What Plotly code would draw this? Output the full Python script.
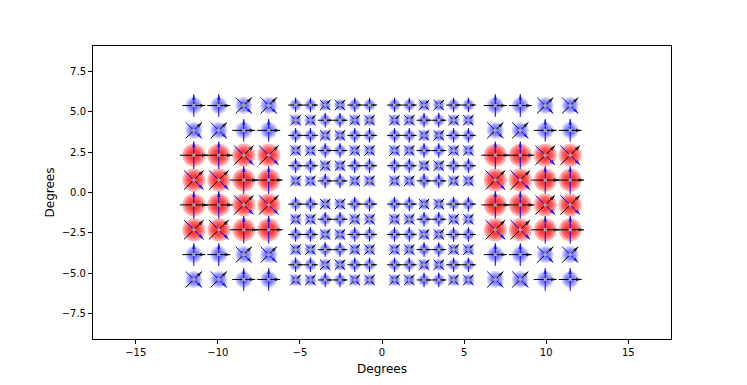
import plotly.graph_objects as go

# focal plane layout (degrees)
outer_x = [-11.46, -9.94, -8.42, -6.9, 6.9, 8.42, 9.94, 11.46]
outer_y = [5.39, 3.85, 2.31, 0.77, -0.77, -2.31, -3.85, -5.39]
outer_pattern = ["++xx++xx", "xx++xx++", "++xx++xx", "xx++xx++",
                 "++xx++xx", "xx++xx++", "++xx++xx", "xx++xx++"]
outer_hot = [0, 0, 1, 1, 1, 1, 0, 0]

inner_x = [-5.26, -4.36, -3.46, -2.56, -1.66, -0.76,
           0.76, 1.66, 2.56, 3.46, 4.36, 5.26]
inner_y = [5.42, 4.48, 3.54, 2.6, 1.66, 0.72,
           -0.72, -1.66, -2.6, -3.54, -4.48, -5.42]
inner_pattern = ["++xx++++xx++", "xx++xxxx++xx", "++xx++++xx++",
                 "xx++xxxx++xx", "++xx++++xx++", "xx++xxxx++xx",
                 "++xx++++xx++", "xx++xxxx++xx", "++xx++++xx++",
                 "xx++xxxx++xx", "++xx++++xx++", "xx++xxxx++xx"]

# detectors: x, y, orientation, kind
dets = []
for r, yv in enumerate(outer_y):
    for c, xv in enumerate(outer_x):
        dets.append((xv, yv, outer_pattern[r][c], "hot" if outer_hot[r] else "outer"))
for r, yv in enumerate(inner_y):
    for c, xv in enumerate(inner_x):
        dets.append((xv, yv, inner_pattern[r][c], "inner"))

style = {
    "hot": dict(color="255,0,0", alpha=0.3, sizes=[23, 19, 15, 11], half=0.85, head=6),
    "outer": dict(color="0,0,255", alpha=0.17, sizes=[17, 14, 11, 8], half=0.7, head=6),
    "inner": dict(color="0,0,255", alpha=0.17, sizes=[12, 10, 8, 6], half=0.45, head=4),
}

fig = go.Figure()

# glowing discs
for kind in ["outer", "inner", "hot"]:
    st = style[kind]
    xs = [d[0] for d in dets if d[3] == kind]
    ys = [d[1] for d in dets if d[3] == kind]
    for s in st["sizes"]:
        fig.add_trace(go.Scatter(
            x=xs, y=ys, mode="markers", hoverinfo="skip",
            marker=dict(size=s, color=f"rgba({st['color']},{st['alpha']})", line=dict(width=0)),
        ))

# polarisation lines + arrow heads
D = 0.7071
for col, name in [("black", "k"), ("blue", "b")]:
    lx, ly, ax, ay, aang, asz = [], [], [], [], [], []
    for xv, yv, o, kind in dets:
        h = style[kind]["half"]
        if o == "+":
            dx, dy = (h, 0) if name == "k" else (0, h)
        else:
            dx, dy = (h * D, h * D) if name == "k" else (h * D, -h * D)
        lx += [xv - dx, xv + dx, None]
        ly += [yv - dy, yv + dy, None]
        ax.append(xv + dx)
        ay.append(yv + dy)
        if o == "+":
            aang.append(90 if name == "k" else 0)
        else:
            aang.append(45 if name == "k" else 135)
        asz.append(style[kind]["head"])
    fig.add_trace(go.Scatter(x=lx, y=ly, mode="lines", hoverinfo="skip",
                             line=dict(color=col, width=1)))
    fig.add_trace(go.Scatter(x=ax, y=ay, mode="markers", hoverinfo="skip",
                             marker=dict(symbol="arrow", size=asz, angle=aang,
                                         color=col, line=dict(width=0))))

# detector centres
fig.add_trace(go.Scatter(
    x=[d[0] for d in dets], y=[d[1] for d in dets], mode="markers", hoverinfo="skip",
    marker=dict(symbol="square", size=3, color="#a8a8a8", line=dict(width=0)),
))

axis = dict(showgrid=False, zeroline=False, showline=True, mirror=True,
            linecolor="black", linewidth=1, ticks="outside", ticklen=4,
            tickwidth=1, tickcolor="black",
            tickfont=dict(family="DejaVu Sans", size=10, color="black"))
fig.update_xaxes(axis, range=[-17.6, 17.6], tickvals=[-15, -10, -5, 0, 5, 10, 15],
                 title=dict(text="Degrees", font=dict(family="DejaVu Sans", size=12, color="black"), standoff=7))
fig.update_yaxes(axis, range=[-9.08, 9.08], tickvals=[-7.5, -5, -2.5, 0, 2.5, 5, 7.5],
                 tickformat=".1f",
                 title=dict(text="Degrees", font=dict(family="DejaVu Sans", size=12, color="black"), standoff=4))
fig.update_layout(width=739, height=377, showlegend=False,
                  margin=dict(l=85, r=76, t=38, b=43),
                  plot_bgcolor="white", paper_bgcolor="white")
fig.write_html("out.html")
